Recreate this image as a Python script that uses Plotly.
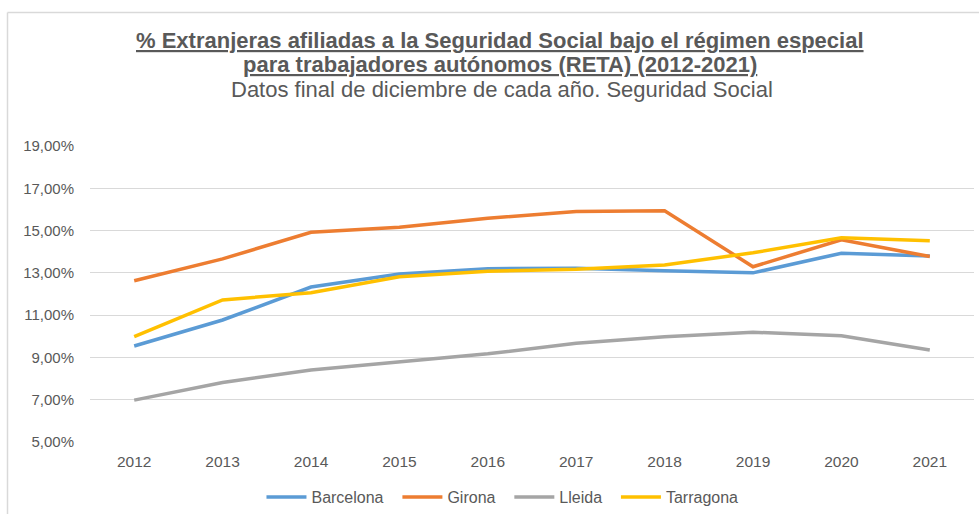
import plotly.graph_objects as go

# Datos (% sobre afiliados RETA)
years = ['2012', '2013', '2014', '2015', '2016', '2017', '2018', '2019', '2020', '2021']
barcelona = [9.54, 10.77, 12.33, 12.95, 13.20, 13.22, 13.10, 13.00, 13.93, 13.80]
girona = [12.63, 13.66, 14.92, 15.16, 15.58, 15.90, 15.94, 13.29, 14.56, 13.77]
lleida = [6.98, 7.81, 8.41, 8.80, 9.17, 9.67, 9.98, 10.19, 10.03, 9.35]
tarragona = [9.98, 11.72, 12.06, 12.82, 13.08, 13.17, 13.37, 13.95, 14.66, 14.52]

y_ticks = [5, 7, 9, 11, 13, 15, 17, 19]
y_labels = ['5,00%', '7,00%', '9,00%', '11,00%', '13,00%', '15,00%', '17,00%', '19,00%']

series = [('Barcelona', barcelona, '#5B9BD5'),
          ('Girona', girona, '#ED7D31'),
          ('Lleida', lleida, '#A5A5A5'),
          ('Tarragona', tarragona, '#FFC000')]

fig = go.Figure()
for i, (name, vals, color) in enumerate(series):
    # un poco de aire entre entradas de la leyenda
    label = name if i == len(series) - 1 else name + '\u00a0\u00a0'
    fig.add_trace(go.Scatter(x=years, y=vals, name=label, mode='lines',
                             line=dict(color=color, width=3.5)))

txt = '#595959'
fig.update_layout(
    width=979, height=514,
    margin=dict(l=90, r=5, t=146, b=72, autoexpand=False),
    plot_bgcolor='white', paper_bgcolor='white',
    font=dict(family='Liberation Sans, Arial', color=txt, size=15),
    showlegend=True,
    legend=dict(orientation='h', x=0.4666, xanchor='center', y=-0.186, yanchor='middle',
                font=dict(size=16, color=txt), itemwidth=40, tracegroupgap=0),
    xaxis=dict(type='category', range=[-0.5, 9.5], showgrid=False, zeroline=False,
               ticks='', tickfont=dict(size=15.5, color=txt), showline=False,
               ticklabelstandoff=8),
    yaxis=dict(range=[5, 19], tickvals=y_ticks, ticktext=y_labels, showgrid=True,
               gridcolor='#D9D9D9', gridwidth=1, zeroline=False, showline=False,
               ticks='', tickfont=dict(size=15, color=txt), ticklabelstandoff=15),
)

fig.add_annotation(xref='paper', yref='paper', x=0.4638, y=1 + (146 - 41) / 296,
                   yanchor='middle', showarrow=False,
                   text='<b><u>% Extranjeras afiliadas a la Seguridad Social bajo el régimen especial</u></b>',
                   font=dict(size=22, color=txt))
fig.add_annotation(xref='paper', yref='paper', x=0.4638, y=1 + (146 - 65) / 296,
                   yanchor='middle', showarrow=False,
                   text='<b><u>para trabajadores autónomos (RETA) (2012-2021)</u></b>',
                   font=dict(size=22, color=txt))
fig.add_annotation(xref='paper', yref='paper', x=0.4658, y=1 + (146 - 89) / 296,
                   yanchor='middle', showarrow=False,
                   text='Datos final de diciembre de cada año. Seguridad Social',
                   font=dict(size=22, color=txt))

# borde del area del grafico (izquierda y arriba)
bx = (7.5 - 90) / 884
by = 1 + (146 - 12.5) / 296
fig.add_shape(type='line', xref='paper', yref='paper', x0=bx, x1=bx, y0=-72 / 296, y1=by,
              line=dict(color='#D9D9D9', width=1.5))
fig.add_shape(type='line', xref='paper', yref='paper', x0=bx, x1=1.01, y0=by, y1=by,
              line=dict(color='#D9D9D9', width=1.5))

# sin el margen por defecto del body para que la figura empiece en (0, 0)
fig.write_html('out.html', config={'displayModeBar': False},
               post_script="document.body.style.margin='0px';")
